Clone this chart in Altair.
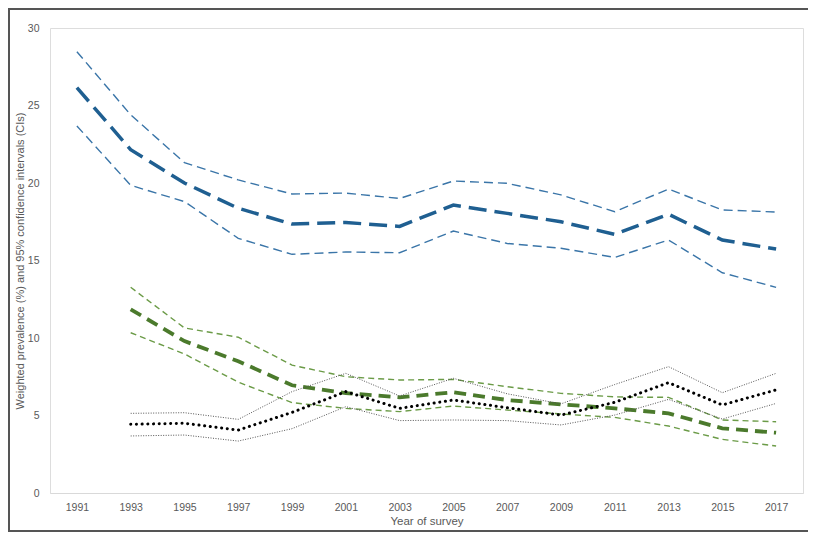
import altair as alt
import pandas as pd

years = ["1991", "1993", "1995", "1997", "1999", "2001", "2003", "2005",
         "2007", "2009", "2011", "2013", "2015", "2017"]

blue_mid = [26.15, 22.15, 20.0, 18.37, 17.35, 17.45, 17.2, 18.58, 18.04, 17.5, 16.69, 17.98, 16.32, 15.74]
blue_hi = [28.47, 24.4, 21.31, 20.2, 19.29, 19.35, 19.0, 20.13, 19.98, 19.23, 18.15, 19.61, 18.26, 18.13]
blue_lo = [23.68, 19.85, 18.8, 16.43, 15.4, 15.55, 15.5, 16.9, 16.1, 15.79, 15.2, 16.32, 14.21, 13.27]

green_years = years[1:]
green_mid = [11.85, 9.8, 8.5, 6.95, 6.45, 6.17, 6.5, 6.0, 5.72, 5.46, 5.14, 4.17, 3.89]
green_hi = [13.27, 10.65, 10.05, 8.25, 7.5, 7.29, 7.33, 6.86, 6.43, 6.2, 6.17, 4.71, 4.6]
green_lo = [10.34, 8.97, 7.15, 5.83, 5.46, 5.25, 5.61, 5.35, 5.1, 4.88, 4.32, 3.46, 3.03]

black_years = years[1:]
black_mid = [4.43, 4.5, 4.06, 5.2, 6.54, 5.46, 6.0, 5.5, 5.03, 5.85, 7.12, 5.68, 6.65]
black_hi = [5.14, 5.18, 4.75, 6.54, 7.72, 6.26, 7.4, 6.4, 5.75, 7.0, 8.15, 6.47, 7.72]
black_lo = [3.68, 3.74, 3.35, 4.15, 5.57, 4.67, 4.71, 4.67, 4.39, 5.03, 6.04, 4.77, 5.78]

series = [
    ("blue_hi", years, blue_hi, "#3a75a8", 1.4, [9, 5], "butt"),
    ("blue_lo", years, blue_lo, "#3a75a8", 1.4, [9, 5], "butt"),
    ("blue_mid", years, blue_mid, "#1f5f91", 3.5, [18, 8], "butt"),
    ("green_hi", green_years, green_hi, "#6b9b47", 1.4, [6, 4], "butt"),
    ("green_lo", green_years, green_lo, "#6b9b47", 1.4, [6, 4], "butt"),
    ("green_mid", green_years, green_mid, "#4b7a2c", 3.8, [12, 7], "butt"),
    ("black_hi", black_years, black_hi, "#555555", 1.0, [1, 1.5], "butt"),
    ("black_lo", black_years, black_lo, "#555555", 1.0, [1, 1.5], "butt"),
    ("black_mid", black_years, black_mid, "#000000", 3.0, [0.1, 5.6], "round"),
]

FONT = "Liberation Sans Narrow, Liberation Sans, sans-serif"

x_enc = alt.X("year:O", scale=alt.Scale(type="point", padding=0.5, domain=years),
              axis=alt.Axis(title="Year of survey", labelAngle=0, ticks=False,
                            domainColor="#d9d9d9", labelColor="#595959", titleColor="#595959",
                            labelFontSize=10.5, titleFontSize=11.5, titleFontWeight="normal",
                            labelFont=FONT, titleFont=FONT, labelPadding=9, titlePadding=3))
y_enc = alt.Y("value:Q", scale=alt.Scale(domain=[0, 30]),
              axis=alt.Axis(title="Weighted prevalence (%) and 95% confidence intervals (CIs)",
                            values=[0, 5, 10, 15, 20, 25, 30], grid=False, ticks=False,
                            domain=False, labelColor="#595959", titleColor="#595959",
                            labelFontSize=10.5, titleFontSize=11, titleFontWeight="normal",
                            labelFont=FONT, titleFont=FONT, labelPadding=11, titlePadding=2))

layers = []
for name, yrs, vals, color, width, dash, cap in series:
    df = pd.DataFrame({"year": yrs, "value": vals})
    layers.append(
        alt.Chart(df).mark_line(color=color, strokeWidth=width, strokeDash=dash, strokeCap=cap)
        .encode(x=x_enc, y=y_enc)
    )

frame = alt.Chart(pd.DataFrame({"a": [0]})).mark_rect(
    fill=None, stroke="#555555", strokeWidth=2
).encode(x=alt.value(-41), x2=alt.value(770), y=alt.value(-19), y2=alt.value(503))

chart = alt.layer(frame, *layers).properties(
    width=753, height=465,
    autosize=alt.AutoSizeParams(type="none"),
    padding={"left": 42, "top": 20, "right": 5, "bottom": 40},
).configure_view(stroke="#a7c0d8", strokeWidth=1.2).configure(background="white")

chart.save("out.html", embed_options={"renderer": "svg", "actions": False})
